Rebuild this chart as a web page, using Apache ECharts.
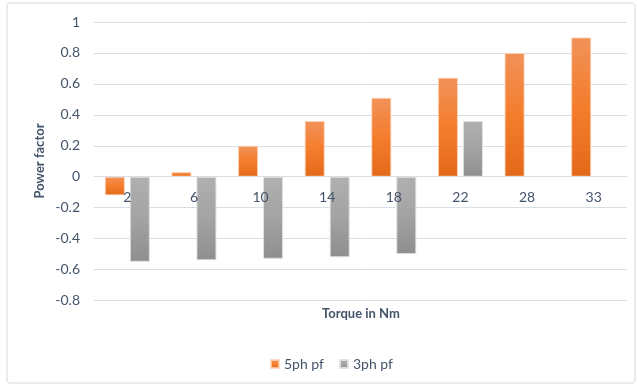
<!DOCTYPE html>
<html>
<head>
<meta charset="utf-8">
<script src="https://cdn.jsdelivr.net/npm/echarts@6/dist/echarts.min.js"></script>
<style>
  html, body { margin: 0; padding: 0; background: #fff; }
  #chart { width: 637px; height: 385px; }
</style>
</head>
<body>
<div id="chart"></div>
<script>
// Torque values (Nm) on the category axis
var torque = ['2', '6', '10', '14', '18', '22', '28', '33'];
// Power factor of the five-phase machine
var pf5ph = [-0.12, 0.03, 0.2, 0.36, 0.51, 0.64, 0.8, 0.9];
// Power factor of the three-phase machine (no reading at 28 and 33 Nm)
var pf3ph = [-0.55, -0.54, -0.53, -0.52, -0.5, 0.36, null, null];

var textColor = '#44546a';
var font = 'Lato, "Open Sans", sans-serif';

var gridTop = 22, gridBottom = 84.5, yMin = -0.8, yMax = 1;
var plotH = 385 - gridTop - gridBottom;
// shift the category axis up from the plot bottom to the zero line
var zeroOffset = plotH * (0 - yMin) / (yMax - yMin);

function grad(top, mid, bottom) {
  return new echarts.graphic.LinearGradient(0, 0, 0, 1, [
    { offset: 0, color: top },
    { offset: 0.5, color: mid },
    { offset: 1, color: bottom }
  ]);
}

var chart = echarts.init(document.getElementById('chart'), null, { renderer: 'canvas' });
chart.setOption({
  animation: false,
  backgroundColor: '#ffffff',
  textStyle: { fontFamily: font },
  grid: { left: 94, right: 10, top: gridTop, bottom: gridBottom, containLabel: false },
  graphic: [
    {
      type: 'rect',
      shape: { x: 7, y: 3, width: 628, height: 380, r: 3 },
      style: { fill: 'none', stroke: '#d9d9d9', lineWidth: 1 },
      silent: true
    },
    {
      type: 'text',
      x: 361,
      y: 314,
      style: {
        text: 'Torque in Nm',
        fill: textColor,
        font: 'bold 13px ' + font,
        align: 'center',
        verticalAlign: 'middle'
      }
    },
    {
      type: 'text',
      x: 40,
      y: 161,
      rotation: Math.PI / 2,
      style: {
        text: 'Power factor',
        fill: textColor,
        font: 'bold 13px ' + font,
        align: 'center',
        verticalAlign: 'middle'
      }
    }
  ],
  legend: {
    top: 352,
    left: 265,
    icon: 'rect',
    itemWidth: 8,
    itemHeight: 8,
    itemGap: 15,
    textStyle: { color: textColor, fontSize: 14, fontFamily: font },
    data: ['5ph pf', '3ph pf']
  },
  xAxis: {
    type: 'category',
    data: torque,
    offset: -zeroOffset,
    z: 10,
    axisLine: { onZero: false, lineStyle: { color: '#d9dde4' } },
    axisTick: { show: false },
    axisLabel: { color: textColor, fontSize: 14, margin: 14, fontFamily: font }
  },
  yAxis: {
    type: 'value',
    min: yMin,
    max: yMax,
    interval: 0.2,
    axisLine: { show: false },
    axisTick: { show: false },
    axisLabel: {
      color: textColor,
      fontSize: 14,
      margin: 14,
      fontFamily: font,
      formatter: function (v) { return String(Math.round(v * 10) / 10); }
    },
    splitLine: { lineStyle: { color: '#d9dde4', width: 1 } }
  },
  series: [
    {
      name: '5ph pf',
      type: 'bar',
      data: pf5ph,
      barWidth: 20,
      barGap: '25%',
      itemStyle: {
        color: grad('#f1925a', '#f47d2c', '#e2691a'),
        borderColor: 'rgba(255,210,180,0.8)',
        borderWidth: 1
      }
    },
    {
      name: '3ph pf',
      type: 'bar',
      data: pf3ph,
      barWidth: 20,
      barGap: '25%',
      itemStyle: {
        color: grad('#b0b0b0', '#a3a3a3', '#8e8e8e'),
        borderColor: 'rgba(225,225,225,0.9)',
        borderWidth: 1
      }
    }
  ]
});
</script>
</body>
</html>
